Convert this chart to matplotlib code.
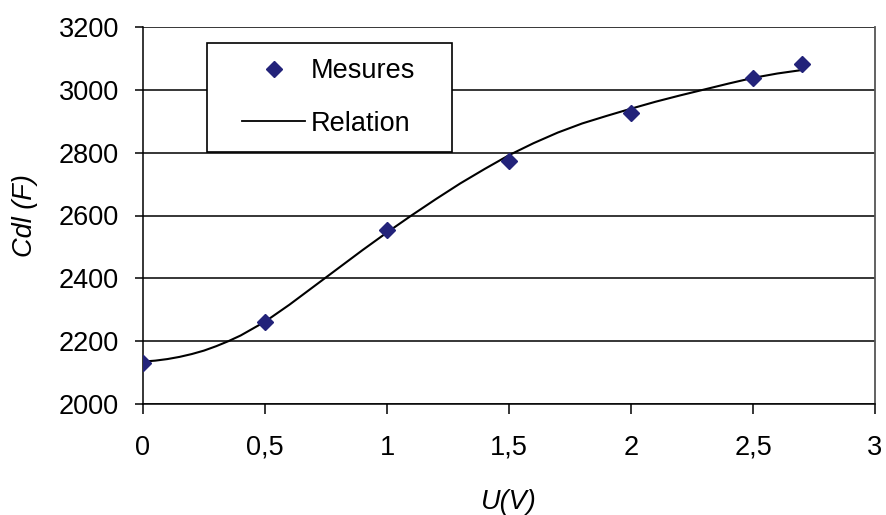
import matplotlib
matplotlib.use("Agg")
import matplotlib.pyplot as plt
from matplotlib.patches import Rectangle
from matplotlib.lines import Line2D

plt.rcParams['font.family'] = ['Liberation Sans', 'DejaVu Sans']

# Measured points
u_mes = [0, 0.5, 1.0, 1.5, 2.0, 2.5, 2.7]
cdl_mes = [2131, 2262, 2554, 2773, 2927, 3037, 3082]

# "Relation" curve
u_rel = [0, 0.05, 0.1, 0.15, 0.2, 0.25, 0.3, 0.35, 0.4, 0.5, 0.6, 0.7, 0.8, 0.9,
         1.0, 1.1, 1.2, 1.3, 1.4, 1.5, 1.6, 1.7, 1.8, 1.9, 2.0, 2.1, 2.2, 2.3,
         2.4, 2.5, 2.6, 2.7]
cdl_rel = [2135, 2138, 2143, 2150, 2159, 2170, 2184, 2200, 2218, 2262, 2316,
           2374, 2432, 2490, 2546, 2600, 2652, 2702, 2748, 2792, 2830, 2864,
           2893, 2917, 2940, 2962, 2982, 3001, 3020, 3038, 3052, 3063]

x_ticks = [0, 0.5, 1, 1.5, 2, 2.5, 3]
x_labels = ['0', '0,5', '1', '1,5', '2', '2,5', '3']
y_ticks = [2000, 2200, 2400, 2600, 2800, 3000, 3200]
y_labels = ['2000', '2200', '2400', '2600', '2800', '3000', '3200']

W, H = 886, 515
fig = plt.figure(figsize=(W / 100, H / 100), dpi=100)
L, R, T, B = 143, 875, 27, 404
ax = fig.add_axes([L / W, 1 - B / H, (R - L) / W, (B - T) / H])

ax.set_xlim(0, 3)
ax.set_ylim(2000, 3200)
ax.set_xticks(x_ticks)
ax.set_xticklabels(x_labels)
ax.set_yticks(y_ticks)
ax.set_yticklabels(y_labels)

ax.grid(axis='y', color='black', linewidth=1.1, zorder=1)
ax.set_axisbelow(True)

for s in ['left', 'bottom']:
    ax.spines[s].set_color('black')
    ax.spines[s].set_linewidth(1.1)
ax.spines['top'].set_visible(False)
ax.spines['right'].set_color('#555555')
ax.spines['right'].set_linewidth(1.3)

ax.tick_params(axis='x', direction='out', length=7.2, width=1.1, pad=15,
               labelsize=19.5, colors='black')
ax.tick_params(axis='y', direction='out', length=5.8, width=1.1, pad=11.5,
               labelsize=19.5, colors='black')

ax.plot(u_rel, cdl_rel, color='black', linewidth=1.5, zorder=3,
        solid_joinstyle='round')
ax.plot(u_mes, cdl_mes, linestyle='none', marker='D', markersize=8.5,
        color='#23237a', zorder=4)

ax.set_xlabel('U(V)', fontsize=19.5, style='italic')
ax.xaxis.label.set_va('center')
ax.xaxis.set_label_coords(0.5, (B - 502) / (B - T))
ax.set_ylabel('Cdl (F)', fontsize=19.5, style='italic')
ax.yaxis.label.set_va('center')
ax.yaxis.set_label_coords((25 - L) / (R - L), 0.5)

# legend frame
bx0 = (207 - L) / (R - L)
bx1 = (452 - L) / (R - L)
by0 = (B - 152) / (B - T)
by1 = (B - 43) / (B - T)
rect = Rectangle((bx0, by0), bx1 - bx0, by1 - by0, transform=ax.transAxes,
                 facecolor='white', edgecolor='black', linewidth=1.2, zorder=4)
ax.add_patch(rect)

handles = [Line2D([], [], linestyle='none', marker='D', markersize=8.5, color='#23237a'),
           Line2D([], [], color='black', linewidth=1.3)]
leg = ax.legend(handles, ['Mesures', 'Relation'], loc='center',
                bbox_to_anchor=((bx0 + bx1) / 2 - 0.001, (by0 + by1) / 2),
                frameon=False, fontsize=19.5, handlelength=2.33,
                handletextpad=0.22, labelspacing=0.97, borderpad=0)
leg.set_zorder(5)

fig.savefig('out.png', dpi=100)
